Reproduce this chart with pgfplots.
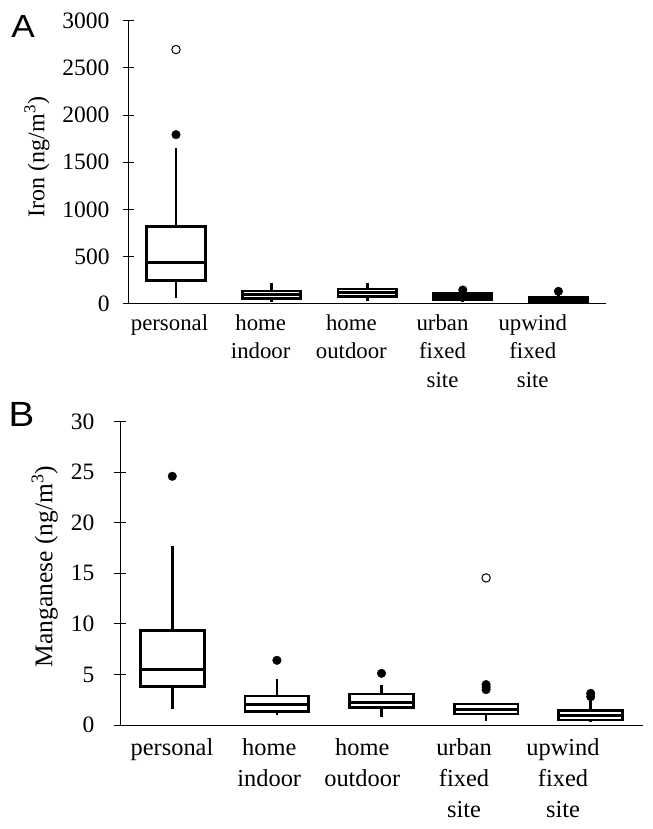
\documentclass[border=0pt]{standalone}
\usepackage{pgfplots}
\pgfplotsset{compat=1.18}
\usepackage{fontspec}
\setmainfont{Liberation Serif}
\newfontfamily\panelfont[FakeStretch=1.1]{Liberation Sans}

\pgfplotsset{
  panel/.style={
    scale only axis,
    axis x line*=bottom, axis y line*=left,
    xmin=0.5, xmax=5.5,
    x tick style={draw=none},
    tick align=center,
    y tick style={black, line width=0.8bp},
    major tick length=11bp,
    axis line style={black, line width=0.8bp},
    /pgf/number format/assume math mode=true,
    /pgf/number format/1000 sep={},
    scaled y ticks=false,
    clip=false,
  },
  bx/.style={black, line width=2.7bp, fill=white, solid, mark=none, line join=miter},
  wh/.style={black, line width=2.7bp, solid, mark=none},
  outl/.style={only marks, mark=*, mark size=4.3bp, black, mark options={solid}},
  rings/.style={only marks, mark=o, mark size=4.2bp, black, mark options={solid, line width=1bp, fill=white}},
}

\begin{document}
\begin{tikzpicture}
\path[use as bounding box] (0,0) rectangle (653bp,829bp);

% panel A: iron; boxes span position +-0.305
\begin{axis}[panel,
  at={(128.2bp,525.3bp)}, anchor=south west,
  width=478bp, height=283bp,
  ymin=0, ymax=3000, ytick={0,500,1000,1500,2000,2500,3000},
  xtick={0.932,1.886,2.834,3.788,4.732},
  xticklabels={personal,{home\\indoor},{home\\outdoor},{urban\\fixed\\site},{upwind\\fixed\\site}},
  yticklabel style={font=\fontsize{23.5bp}{26bp}\selectfont, anchor=east, inner sep=0pt, xshift=-13bp},
  xticklabel style={align=center, anchor=north, font=\fontsize{22.8bp}{28.3bp}\selectfont, yshift=-2bp},
  ylabel={Iron (ng/m\textsuperscript{3})},
  ylabel style={at={(axis description cs:-0.225,0.518)}, anchor=north, font=\fontsize{24bp}{28bp}\selectfont},
]
% whiskers (lower whisker to Q1, Q3 to upper whisker)
\addplot[wh] table {
x y
1 64
1 244

1 821
1 1648

2 21
2 57

2 135
2 216

3 32
3 78

3 156
3 216

4 21
4 42

4 106
4 120

5 10
5 15

5 64
5 115
};
% boxes Q1..Q3
\addplot[bx] coordinates {(0.695,244) (1.305,244) (1.305,821) (0.695,821)} -- cycle;
\addplot[bx] coordinates {(1.695,57) (2.305,57) (2.305,135) (1.695,135)} -- cycle;
\addplot[bx] coordinates {(2.695,78) (3.305,78) (3.305,156) (2.695,156)} -- cycle;
\addplot[bx] coordinates {(3.695,42) (4.305,42) (4.305,106) (3.695,106)} -- cycle;
\addplot[bx] coordinates {(4.695,15) (5.305,15) (5.305,64) (4.695,64)} -- cycle;
% medians
\addplot[wh] table {
x y
0.695 439
1.305 439

1.695 100
2.305 100

2.695 117
3.305 117

3.695 74
4.305 74

4.695 35
5.305 35
};
\addplot[outl] coordinates {(1,1792) (4,145) (5,131)};
\addplot[rings] coordinates {(1,2694)};
\end{axis}
\node[font=\panelfont\fontsize{32bp}{36bp}\selectfont] at (23bp,802.5bp) {A};

% panel B: manganese
\begin{axis}[panel,
  at={(120bp,104bp)}, anchor=south west,
  width=523bp, height=303.3bp,
  ymin=0, ymax=30, ytick={0,5,10,15,20,25,30},
  xtick={0.997,1.927,2.816,3.789,4.735},
  xticklabels={personal,{home\\indoor},{home\\outdoor},{urban\\fixed\\site},{upwind\\fixed\\site}},
  yticklabel style={font=\fontsize{23.5bp}{26bp}\selectfont, anchor=east, inner sep=0pt, xshift=-20bp},
  xticklabel style={align=center, anchor=north, font=\fontsize{24.4bp}{31bp}\selectfont, yshift=-5bp},
  ylabel={Manganese (ng/m\textsuperscript{3})},
  ylabel style={at={(axis description cs:-0.176,0.523)}, anchor=north, font=\fontsize{25.5bp}{30bp}\selectfont},
]
\addplot[wh] table {
x y
1 1.55
1 3.79

1 9.36
1 17.7

2 0.99
2 1.32

2 2.87
2 4.52

3 0.76
3 1.71

3 3.07
3 3.93

4 0.4
4 1.09

4 2.08
4 2.2

5 0.27
5 0.49

5 1.42
5 2.4
};
\addplot[bx] coordinates {(0.695,3.79) (1.305,3.79) (1.305,9.36) (0.695,9.36)} -- cycle;
\addplot[bx] coordinates {(1.695,1.32) (2.305,1.32) (2.305,2.87) (1.695,2.87)} -- cycle;
\addplot[bx] coordinates {(2.695,1.71) (3.305,1.71) (3.305,3.07) (2.695,3.07)} -- cycle;
\addplot[bx] coordinates {(3.695,1.09) (4.305,1.09) (4.305,2.08) (3.695,2.08)} -- cycle;
\addplot[bx] coordinates {(4.695,0.49) (5.305,0.49) (5.305,1.42) (4.695,1.42)} -- cycle;
\addplot[wh] table {
x y
0.695 5.5
1.305 5.5

1.695 2.05
2.305 2.05

2.695 2.2
3.305 2.2

3.695 1.5
4.305 1.5

4.695 0.92
5.305 0.92
};
\addplot[outl] coordinates {(1,24.6) (2,6.4) (3,5.11) (4,3.5) (4,3.75) (4,4.0) (5,2.8) (5,3.13)};
\addplot[rings] coordinates {(4,14.55)};
\end{axis}
\node[font=\panelfont\fontsize{35bp}{40bp}\selectfont] at (21.5bp,414.5bp) {B};
\end{tikzpicture}
\end{document}
